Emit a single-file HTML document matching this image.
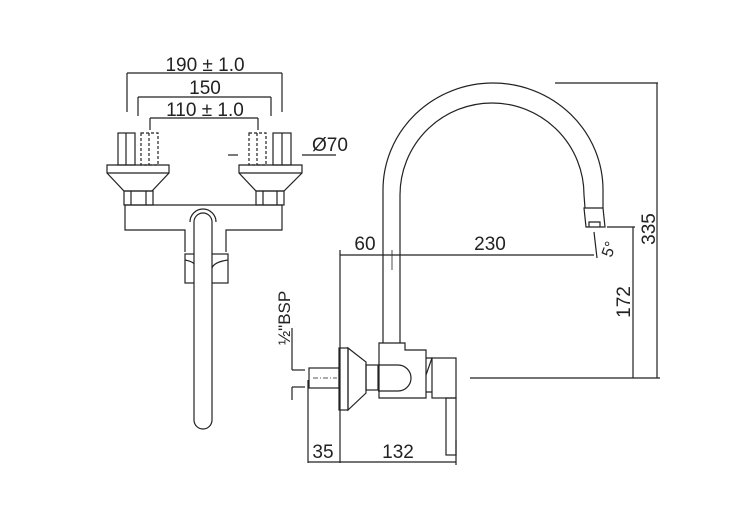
<!DOCTYPE html>
<html><head><style>body{margin:0;background:#fff}svg{display:block}</style></head><body>
<svg width="740" height="512" viewBox="0 0 740 512" xmlns="http://www.w3.org/2000/svg" font-family="Liberation Sans, sans-serif" fill="none" stroke="#222" stroke-width="1.2">
<!-- LEFT VIEW dims -->
<line x1="127" y1="73" x2="282" y2="73"/><line x1="127" y1="73" x2="127" y2="112"/><line x1="282" y1="73" x2="282" y2="112"/>
<line x1="138" y1="97" x2="271" y2="97"/><line x1="138" y1="97" x2="138" y2="116"/><line x1="271" y1="97" x2="271" y2="116"/>
<line x1="150" y1="118" x2="258" y2="118"/><line x1="150" y1="118" x2="150" y2="130"/><line x1="258" y1="118" x2="258" y2="130"/>
<g fill="#222" stroke="none" font-size="19" text-anchor="middle">
<text x="205" y="71">190 ± 1.0</text><text x="205" y="94">150</text><text x="205" y="116">110 ± 1.0</text>
<text x="330" y="151">Ø70</text>
</g>
<line x1="228" y1="155" x2="238" y2="155"/><line x1="302" y1="155" x2="336" y2="155"/>
<!-- left handle -->
<rect x="118" y="133" width="17" height="32"/><line x1="126" y1="133" x2="126" y2="165"/>
<rect x="141" y="133" width="17" height="32" stroke-dasharray="3 2"/><line x1="149" y1="133" x2="149" y2="165" stroke-dasharray="3 2"/>
<path d="M107 165 H169 V173 L152 191 H124 L107 173 Z"/><line x1="107" y1="173" x2="169" y2="173"/>
<rect x="124" y="191" width="29" height="14"/><line x1="131" y1="191" x2="131" y2="205"/><line x1="146" y1="191" x2="146" y2="205"/>
<!-- right handle -->
<rect x="249" y="133" width="17" height="32" stroke-dasharray="3 2"/><line x1="257" y1="133" x2="257" y2="165" stroke-dasharray="3 2"/>
<rect x="273" y="133" width="18" height="32"/><line x1="282" y1="133" x2="282" y2="165"/>
<path d="M239 165 H302 V173 L284 191 H256 L239 173 Z"/><line x1="239" y1="173" x2="302" y2="173"/>
<rect x="256" y="191" width="28" height="14"/><line x1="263" y1="191" x2="263" y2="205"/><line x1="277" y1="191" x2="277" y2="205"/>
<!-- body -->
<path d="M185 252 V230 H125 V205 H282 V230 H226 V252"/>
<rect x="185" y="254" width="43" height="29"/><path d="M185 260 Q196 262 196 268 M228 260 Q214 262 212 268"/>
<path d="M194 222 V420 A9 9 0 0 0 212 420 V222 A9 9 0 0 0 194 222 Z" fill="#fff"/>
<path d="M190 222 A13 13 0 0 1 216 222"/>
<!-- RIGHT VIEW spout -->
<path d="M383 343 V190 A110 107 0 0 1 603 190 L603 208"/>
<path d="M400 343 V195 A92 92 0 0 1 584 195 L585 208"/>
<path d="M584 208 H603 L605 227 H586 Z"/>
<path d="M589 227 V222 H600 V227"/>
<!-- valve -->
<path d="M379 343 H405 V350 H426 V398 H379 Z"/>
<path d="M378 365 H398 A13 13 0 0 1 398 391 H378"/>
<rect x="366" y="365" width="12" height="25"/>
<path d="M348 348 L366 362 V393 L348 410 Z"/><rect x="339" y="348" width="9" height="62"/>
<rect x="309" y="368" width="30" height="20"/><line x1="313" y1="378" x2="337" y2="378" stroke-dasharray="5 2 1 2" stroke-width="0.8"/>
<path d="M426 358 H432 L426 375 M426 392 H432"/><rect x="432" y="358" width="24" height="40"/>
<rect x="446" y="398" width="10" height="57"/>
<!-- dims right -->
<line x1="340" y1="250" x2="340" y2="463"/><line x1="308" y1="380" x2="308" y2="463"/>
<line x1="308" y1="462" x2="456" y2="462"/><line x1="456" y1="440" x2="456" y2="465"/>
<line x1="340" y1="255" x2="594" y2="255"/><line x1="392" y1="250" x2="392" y2="270" stroke-width="0.8"/>
<line x1="594" y1="232" x2="597" y2="258"/>
<line x1="555" y1="83" x2="658" y2="83"/><line x1="657" y1="83" x2="657" y2="378"/>
<line x1="470" y1="378" x2="660" y2="378"/>
<line x1="607" y1="227" x2="635" y2="227"/><line x1="633" y1="227" x2="633" y2="378"/>
<line x1="292" y1="370" x2="305" y2="370"/><line x1="292" y1="387" x2="305" y2="387"/>
<line x1="292" y1="328" x2="292" y2="370"/><line x1="292" y1="387" x2="292" y2="400"/>
<g fill="#222" stroke="none" font-size="19" text-anchor="middle">
<text x="365" y="250">60</text><text x="490" y="250">230</text>
<text x="323" y="458">35</text><text x="398" y="458">132</text>
<text transform="translate(655,229) rotate(-90)">335</text>
<text transform="translate(630,302) rotate(-90)">172</text>
<text transform="translate(614,251) rotate(-70)" font-size="16">5°</text>
<text transform="translate(290,345) rotate(-90)" text-anchor="start" font-size="17">½"BSP</text>
</g>
</svg>
</body></html>
